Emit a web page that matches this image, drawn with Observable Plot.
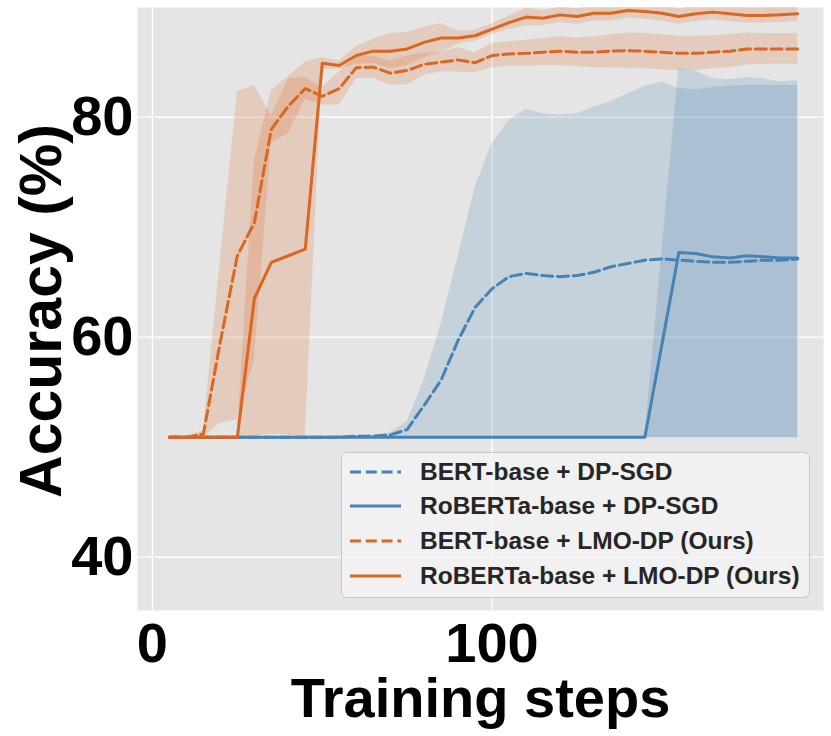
<!DOCTYPE html>
<html>
<head>
<meta charset="utf-8">
<script src="https://cdn.jsdelivr.net/npm/d3@7"></script>
<script src="https://cdn.jsdelivr.net/npm/@observablehq/plot@0.6"></script>
<style>
  html, body { margin: 0; padding: 0; background: #fff; }
  #wrap { position: relative; width: 831px; height: 736px; font-family: "Liberation Sans", Arial, sans-serif; }
  #legend {
    position: absolute; left: 341px; top: 452px; width: 469px; height: 146px;
    background: rgba(243,243,243,0.85); border: 1px solid #c8c8c8; border-radius: 6px;
    box-sizing: border-box;
  }
  .row { position: absolute; left: 0; height: 30px; display: flex; align-items: center; }
  .row svg { margin-left: 8px; }
  .row span { margin-left: 19px; font-size: 24.5px; font-weight: bold; color: #262626; white-space: nowrap; }
</style>
</head>
<body>
<div id="wrap"><div id="chart"></div><div id="legend"></div></div>
<script>
// Training steps
const steps = [5,10,15,20,25,30,35,40,45,50,55,60,65,70,75,80,85,90,95,100,105,110,115,120,125,130,135,140,145,150,155,160,165,170,175,180,185,190];

// BERT-base + DP-SGD (mean, band lower, band upper)
const bertSgdMean = [50.9,50.9,50.9,50.9,50.9,50.9,50.9,50.9,50.9,50.9,50.9,51.0,51.0,51.1,51.6,53.8,56.1,59.7,62.7,64.4,65.5,65.8,65.6,65.5,65.6,65.9,66.4,66.7,67.0,67.1,67.0,66.9,66.8,66.8,66.9,67.0,67.0,67.1];
const bertSgdLo   = [50.85,50.85,50.85,50.85,50.85,50.85,50.85,50.85,50.85,50.85,50.85,50.85,50.85,50.85,50.85,50.85,50.85,50.85,50.85,50.85,50.85,50.85,50.85,50.85,50.85,50.85,50.85,50.85,50.85,50.85,50.85,50.85,50.85,50.85,50.85,50.85,50.85,50.85];
const bertSgdHi   = [51.0,51.0,51.0,51.0,51.0,51.0,51.0,51.0,51.0,51.0,51.0,51.05,51.1,51.3,52.3,56.1,61.2,67.3,73.6,77.6,79.7,80.7,80.3,80.2,80.3,80.9,81.4,82.1,82.8,83.2,82.6,82.5,82.7,82.8,82.9,82.9,82.9,82.9];

// RoBERTa-base + DP-SGD (mean, band lower, band upper)
const robertaSgdMean = [50.9,50.9,50.9,50.9,50.9,50.9,50.9,50.9,50.9,50.9,50.9,50.9,50.9,50.9,50.9,50.9,50.9,50.9,50.9,50.9,50.9,50.9,50.9,50.9,50.9,50.9,50.9,50.9,50.9,59.3,67.7,67.6,67.3,67.2,67.4,67.3,67.2,67.2];
const robertaSgdLo   = [50.85,50.85,50.85,50.85,50.85,50.85,50.85,50.85,50.85,50.85,50.85,50.85,50.85,50.85,50.85,50.85,50.85,50.85,50.85,50.85,50.85,50.85,50.85,50.85,50.85,50.85,50.85,50.85,50.85,50.85,50.85,50.85,50.85,50.85,50.85,50.85,50.85,50.85];
const robertaSgdHi   = [50.95,50.95,50.95,50.95,50.95,50.95,50.95,50.95,50.95,50.95,50.95,50.95,50.95,50.95,50.95,50.95,50.95,50.95,50.95,50.95,50.95,50.95,50.95,50.95,50.95,50.95,50.95,50.95,50.95,67.7,84.4,84.2,83.5,83.4,83.6,83.5,83.2,83.3];

// BERT-base + LMO-DP (Ours) (mean, std)
const bertLmoMean = [50.9,50.9,51.2,59.6,67.4,70.4,78.9,81.0,82.6,81.9,82.6,84.5,84.55,84.0,84.25,84.8,85.0,85.2,84.95,85.6,85.75,85.8,85.9,86.0,85.9,85.9,86.0,86.05,86.0,85.9,85.8,85.8,85.9,86.0,86.2,86.2,86.2,86.2];
const bertLmoStd  = [0.05,0.05,0.3,7.4,14.9,12.5,1.2,2.5,1.0,0.8,1.5,1.0,1.0,1.1,1.3,1.0,0.9,1.1,0.9,1.1,1.1,1.2,1.2,1.3,1.3,1.4,1.5,1.6,1.6,1.6,1.55,1.55,1.5,1.5,1.45,1.4,1.4,1.4];

// RoBERTa-base + LMO-DP (Ours) (mean, std)
const robertaLmoMean = [50.9,50.9,50.9,50.9,50.9,63.5,66.8,67.4,68.0,84.9,84.7,85.6,86.0,86.0,86.2,86.8,87.2,87.2,87.4,88.0,88.6,89.1,89.0,89.3,89.15,89.45,89.45,89.7,89.6,89.45,89.15,89.4,89.55,89.4,89.25,89.25,89.3,89.4];
const robertaLmoStd  = [0.02,0.02,0.02,0.02,0.02,12.5,15.6,16.3,17.0,0.5,0.4,0.8,1.1,1.6,1.5,1.4,1.3,0.6,0.5,0.5,0.6,0.8,0.7,0.7,0.7,0.7,0.7,0.7,0.7,0.7,0.7,0.7,0.7,0.7,0.7,0.7,0.7,0.7];

const seriesNames = ["BERT-base + DP-SGD", "RoBERTa-base + DP-SGD", "BERT-base + LMO-DP (Ours)", "RoBERTa-base + LMO-DP (Ours)"];
const seriesMeans = [bertSgdMean, robertaSgdMean, bertLmoMean, robertaLmoMean];
const seriesLo = [bertSgdLo, robertaSgdLo, bertLmoMean.map((m, i) => m - bertLmoStd[i]), robertaLmoMean.map((m, i) => m - robertaLmoStd[i])];
const seriesHi = [bertSgdHi, robertaSgdHi, bertLmoMean.map((m, i) => m + bertLmoStd[i]), robertaLmoMean.map((m, i) => m + robertaLmoStd[i])];
const seriesColors = ["#4682b4", "#4682b4", "#da6620", "#da6620"];
const seriesDashed = [true, false, true, false];

const xTicks = [0, 100];
const yTicks = [40, 60, 80];

const rows = [];
seriesNames.forEach((name, s) => {
  steps.forEach((x, i) => {
    rows.push({series: name, s, x, mean: seriesMeans[s][i], lo: seriesLo[s][i], hi: seriesHi[s][i]});
  });
});

const bandMarks = seriesNames.map((name, s) =>
  Plot.areaY(rows.filter(d => d.s === s), {x: "x", y1: "lo", y2: "hi", fill: seriesColors[s], fillOpacity: 0.2, clip: true})
);
const lineMarks = seriesNames.map((name, s) =>
  Plot.lineY(rows.filter(d => d.s === s), {x: "x", y: "mean", stroke: seriesColors[s], strokeWidth: 3,
    strokeDasharray: seriesDashed[s] ? "11,4.8" : null, clip: true})
);

const font = "'Liberation Sans', Arial, sans-serif";
const chart = Plot.plot({
  width: 831,
  height: 736,
  marginLeft: 137,
  marginRight: 8,
  marginTop: 7,
  marginBottom: 126,
  style: {fontFamily: font, background: "#fff", overflow: "visible"},
  x: {domain: [-4.4, 197.6]},
  y: {domain: [35.15, 89.97]},
  marks: [
    Plot.frame({fill: "#e5e5e5", stroke: null}),
    Plot.gridX(xTicks, {stroke: "#fff", strokeOpacity: 1, strokeWidth: 1.4}),
    Plot.gridY(yTicks, {stroke: "#fff", strokeOpacity: 1, strokeWidth: 1.4}),
    ...bandMarks,
    ...lineMarks,
    Plot.axisX(xTicks, {tickSize: 0, tickPadding: 12, fontSize: 56, fontWeight: "bold", fill: "#000", label: null}),
    Plot.axisY(yTicks, {tickSize: 0, tickPadding: 4, fontSize: 56, fontWeight: "bold", fill: "#000", label: null}),
    Plot.text(["Training steps"], {frameAnchor: "bottom", dy: 106, lineAnchor: "bottom", fontSize: 56, fontWeight: "bold", fill: "#000"}),
    Plot.text(["Accuracy (%)"], {frameAnchor: "left", textAnchor: "middle", dx: -95, dy: 2, rotate: -90, fontSize: 59, fontWeight: "bold", fill: "#000"})
  ]
});
document.getElementById("chart").appendChild(chart);

// Legend
const legend = document.getElementById("legend");
const rowCenters = [18.5, 53, 88, 122.5];
seriesNames.forEach((name, s) => {
  const row = document.createElement("div");
  row.className = "row";
  row.style.top = (rowCenters[s] - 15) + "px";
  const dash = seriesDashed[s] ? 'stroke-dasharray="11,4.8"' : "";
  row.innerHTML = `<svg width="51" height="10"><line x1="0" y1="5" x2="51" y2="5" stroke="${seriesColors[s]}" stroke-width="3" ${dash}/></svg><span>${name}</span>`;
  legend.appendChild(row);
});
</script>
</body>
</html>
